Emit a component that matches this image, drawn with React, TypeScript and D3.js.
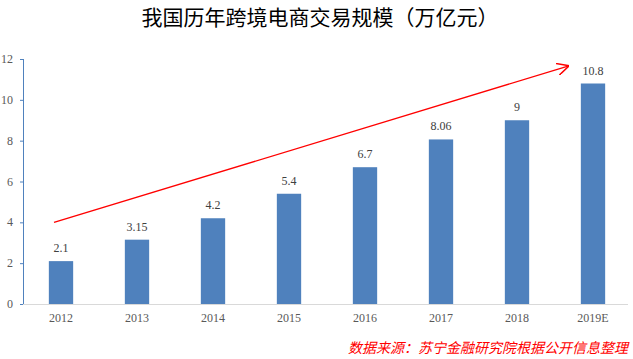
import React from "react";
import * as d3 from "d3";

const categories = ["2012", "2013", "2014", "2015", "2016", "2017", "2018", "2019E"];
const values = [2.1, 3.15, 4.2, 5.4, 6.7, 8.06, 9, 10.8];
const valueLabels = ["2.1", "3.15", "4.2", "5.4", "6.7", "8.06", "9", "10.8"];
const yTicks = [0, 2, 4, 6, 8, 10, 12];
const arrowStart = { cat: "2012", value: 4.0 };
const arrowEnd = { cat: "2019E", value: 11.65 };

const W = 633, H = 359;
const left = 23, right = 631, top = 59, bottom = 304;

export default function App() {
  const x = d3.scaleBand().domain(categories).range([left, right]).paddingInner(0.68).paddingOuter(0.34);
  const y = d3.scaleLinear().domain([0, 12]).range([bottom, top]);
  const bw = x.bandwidth();
  const ax1 = (x(arrowStart.cat) as number) + bw / 2 - 7;
  const ax2 = (x(arrowEnd.cat) as number) + bw / 2 - 25;
  const ay1 = y(arrowStart.value);
  const ay2 = y(arrowEnd.value);
  const serif = "Liberation Serif";
  return (
    <svg width={W} height={H} style={{ position: "absolute", left: 0, top: 0, background: "#fff" }}>
      <defs>
        <marker id="arr" viewBox="0 0 10 10" refX="9" refY="5" markerWidth="12" markerHeight="12" markerUnits="userSpaceOnUse" orient="auto">
          <path d="M0,0 L10,5 L0,10" fill="none" stroke="#FF0000" strokeWidth="1.3" />
        </marker>
      </defs>
      <text x={320} y={25} textAnchor="middle" fontFamily="Noto Sans CJK SC" fontSize={21} fill="#000">
        我国历年跨境电商交易规模（万亿元）
      </text>
      <line x1={left} x2={right - 3} y1={bottom + 0.5} y2={bottom + 0.5} stroke="#D9D9D9" strokeWidth={1} />
      <line x1={left + 0.5} x2={left + 0.5} y1={top} y2={bottom} stroke="#4F81BD" strokeWidth={1} />
      {yTicks.map((t) => (
        <g key={t}>
          <line x1={left - 3} x2={left} y1={y(t) + 0.5} y2={y(t) + 0.5} stroke="#4F81BD" />
          <text x={13} y={y(t) + 4} textAnchor="end" fontFamily={serif} fontSize={12} fill="#595959">{t}</text>
        </g>
      ))}
      {categories.map((c, i) => (
        <g key={c}>
          <rect x={x(c)} y={y(values[i])} width={bw} height={bottom - y(values[i])} fill="#4F81BD" />
          <text x={(x(c) as number) + bw / 2} y={y(values[i]) - 9} textAnchor="middle" fontFamily={serif} fontSize={12} fill="#404040">{valueLabels[i]}</text>
          <text x={(x(c) as number) + bw / 2} y={bottom + 18} textAnchor="middle" fontFamily={serif} fontSize={12} fill="#595959">{c}</text>
        </g>
      ))}
      <line x1={ax1} y1={ay1} x2={ax2} y2={ay2} stroke="#FF0000" strokeWidth={1.3} markerEnd="url(#arr)" />
      <text x={628} y={353} textAnchor="end" fontFamily="Noto Sans CJK SC" fontStyle="italic" fontSize={14} fill="#FF0000">
        数据来源：苏宁金融研究院根据公开信息整理
      </text>
    </svg>
  );
}
